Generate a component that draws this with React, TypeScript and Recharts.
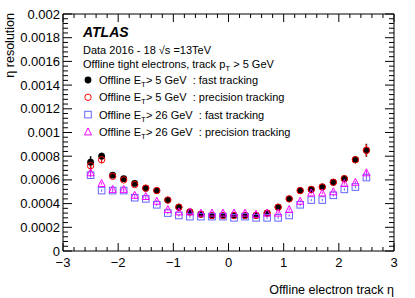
import React from "react";
import { ErrorBar, Scatter, ScatterChart, XAxis, YAxis } from "recharts";

// eta bin centres
const etaBins = [
  -2.5, -2.3, -2.1, -1.9, -1.7, -1.5, -1.3, -1.1, -0.9, -0.7, -0.5, -0.3, -0.1,
  0.1, 0.3, 0.5, 0.7, 0.9, 1.1, 1.3, 1.5, 1.7, 1.9, 2.1, 2.3, 2.5,
];

// Offline ET > 5 GeV : fast tracking
const fastEt5 = [
  0.00075, 0.0008, 0.00064, 0.00061, 0.00057, 0.00053, 0.00051, 0.00043, 0.00037,
  0.00033, 0.00031, 0.0003, 0.0003, 0.0003, 0.0003, 0.0003, 0.00032, 0.00037,
  0.00044, 0.00051, 0.00052, 0.00054, 0.00058, 0.00061, 0.00077, 0.00085,
];
const fastEt5Err = [
  0.00005, 0.00003, 0.00001, 0.00001, 0.00001, 0.00001, 0.00001, 0.00001, 0.00001,
  0.00001, 0.00001, 0.00001, 0.00001, 0.00001, 0.00001, 0.00001, 0.00001, 0.00001,
  0.00001, 0.00001, 0.00001, 0.00001, 0.00001, 0.00001, 0.00002, 0.000055,
];

// Offline ET > 5 GeV : precision tracking
const precEt5 = [
  0.00072, 0.00077, 0.00063, 0.0006, 0.00056, 0.00053, 0.00051, 0.00043, 0.00037,
  0.00033, 0.00031, 0.0003, 0.0003, 0.0003, 0.0003, 0.0003, 0.00032, 0.00037,
  0.00044, 0.00051, 0.00052, 0.00054, 0.00058, 0.00061, 0.00077, 0.00085,
];
const precEt5Err = [
  0.00005, 0.00003, 0.00001, 0.00001, 0.00001, 0.00001, 0.00001, 0.00001, 0.00001,
  0.00001, 0.00001, 0.00001, 0.00001, 0.00001, 0.00001, 0.00001, 0.00001, 0.00001,
  0.00001, 0.00001, 0.00001, 0.00001, 0.00001, 0.00001, 0.00002, 0.00005,
];

// Offline ET > 26 GeV : fast tracking
const fastEt26 = [
  0.00064, 0.00051, 0.00051, 0.00051, 0.00045, 0.00044, 0.00039, 0.00032, 0.0003,
  0.00029, 0.00029, 0.00029, 0.00029, 0.00028, 0.00029, 0.00028, 0.00028, 0.00028,
  0.0003, 0.00039, 0.00043, 0.00043, 0.00047, 0.00052, 0.00054, 0.00062,
];
// Offline ET > 26 GeV : precision tracking
const precEt26 = [
  0.00066, 0.00057, 0.00052, 0.00052, 0.00047, 0.00046, 0.00042, 0.00035, 0.00033,
  0.00033, 0.00032, 0.00032, 0.00032, 0.00032, 0.00032, 0.00031, 0.00032, 0.00032,
  0.00035, 0.00042, 0.00049, 0.00049, 0.0005, 0.00057, 0.00058, 0.00066,
];
const et26Err = [
  0.00002, 0.00001, 0.00001, 0.00001, 0.00001, 0.00001, 0.00001, 0.00001, 0.00001,
  0.00001, 0.00001, 0.00001, 0.00001, 0.00001, 0.00001, 0.00001, 0.00001, 0.00001,
  0.00001, 0.00001, 0.00001, 0.00001, 0.00001, 0.00001, 0.00001, 0.00002,
];

const xMajorTicks = [-3, -2, -1, 0, 1, 2, 3];
const xTickLabels = ["\u22123", "\u22122", "\u22121", "0", "1", "2", "3"];
const yMajorTicks = [
  0, 0.0002, 0.0004, 0.0006, 0.0008, 0.001, 0.0012, 0.0014, 0.0016, 0.0018, 0.002,
];
const yTickLabels = [
  "0", "0.0002", "0.0004", "0.0006", "0.0008", "0.001", "0.0012", "0.0014",
  "0.0016", "0.0018", "0.002",
];

const W = 415;
const H = 298;
const FONT = "'Liberation Sans', Arial, Helvetica, sans-serif";
const RED = "#ff0000";
const BLUE = "#6464ff";
const MAGENTA = "#ff00ff";

// major ticks plus n-1 minor ticks in every gap
function withMinor(major: number[], n: number) {
  const out: number[] = [];
  for (let i = 0; i < major.length - 1; i++) {
    const step = (major[i + 1] - major[i]) / n;
    for (let j = 0; j < n; j++) out.push(Number((major[i] + j * step).toFixed(6)));
  }
  out.push(major[major.length - 1]);
  return out;
}
const xTicks = withMinor(xMajorTicks, 5);
const yTicks = withMinor(yMajorTicks, 5);

const isMajor = (arr: number[], v: number) => arr.findIndex((m) => Math.abs(m - v) < 1e-9);

function BottomTick({ x, y, payload }: any) {
  const i = isMajor(xMajorTicks, payload.value);
  return (
    <g>
      <line x1={x} x2={x} y1={y} y2={y - (i >= 0 ? 8 : 4)} stroke="#000" />
      {i >= 0 && (
        <text x={x} y={y + 16} textAnchor="middle" fontSize={13} fontFamily={FONT} fill="#000">
          {xTickLabels[i]}
        </text>
      )}
    </g>
  );
}

function TopTick({ x, y, payload }: any) {
  const i = isMajor(xMajorTicks, payload.value);
  return <line x1={x} x2={x} y1={y} y2={y + (i >= 0 ? 8 : 4)} stroke="#000" />;
}

function LeftTick({ x, y, payload }: any) {
  const i = isMajor(yMajorTicks, payload.value);
  return (
    <g>
      <line x1={x} x2={x + (i >= 0 ? 9 : 5)} y1={y} y2={y} stroke="#000" />
      {i >= 0 && (
        <text x={x - 3} y={y + 4.5} textAnchor="end" fontSize={13} fontFamily={FONT} fill="#000">
          {yTickLabels[i]}
        </text>
      )}
    </g>
  );
}

function RightTick({ x, y, payload }: any) {
  const i = isMajor(yMajorTicks, payload.value);
  return <line x1={x} x2={x - (i >= 0 ? 9 : 5)} y1={y} y2={y} stroke="#000" />;
}

const FilledDot = ({ cx, cy }: any) => <circle cx={cx} cy={cy} r={3.4} fill="#000" />;
const OpenCircle = ({ cx, cy }: any) => (
  <circle cx={cx} cy={cy} r={3.2} fill="none" stroke={RED} strokeWidth={1} />
);
const OpenSquare = ({ cx, cy }: any) => (
  <rect x={cx - 3.3} y={cy - 3.3} width={6.6} height={6.6} fill="none" stroke={BLUE} strokeWidth={1} />
);
const OpenTriangle = ({ cx, cy }: any) => (
  <polygon
    points={`${cx},${cy - 4} ${cx - 3.5},${cy + 3} ${cx + 3.5},${cy + 3}`}
    fill="none"
    stroke={MAGENTA}
    strokeWidth={1}
  />
);
const Nothing = () => <g />;

const toPoints = (vals: number[], errs: number[]) =>
  etaBins.map((x, i) => ({ x, y: vals[i], err: errs[i] }));

const fast5Data = toPoints(fastEt5, fastEt5Err);
const prec5Data = toPoints(precEt5, precEt5Err);
const fast26Data = toPoints(fastEt26, et26Err);
const prec26Data = toPoints(precEt26, et26Err);

const legend = [
  { shape: FilledDot, et: "5", mode: "fast tracking" },
  { shape: OpenCircle, et: "5", mode: "precision tracking" },
  { shape: OpenSquare, et: "26", mode: "fast tracking" },
  { shape: OpenTriangle, et: "26", mode: "precision tracking" },
];

export default function App() {
  return (
    <div style={{ position: "absolute", left: 0, top: 0, width: W, height: H, background: "#fff" }}>
      <ScatterChart width={W} height={H} margin={{ top: 0, right: 0, bottom: 0, left: 0 }}>
        <XAxis
          xAxisId="bottom"
          dataKey="x"
          type="number"
          domain={[-3, 3]}
          ticks={xTicks}
          interval={0}
          height={47}
          tickSize={0}
          tickMargin={0}
          tickLine={false}
          axisLine={{ stroke: "#000" }}
          tick={<BottomTick />}
          allowDataOverflow
        />
        <XAxis
          xAxisId="top"
          orientation="top"
          dataKey="x"
          type="number"
          domain={[-3, 3]}
          ticks={xTicks}
          interval={0}
          height={14}
          tickSize={0}
          tickMargin={0}
          tickLine={false}
          axisLine={{ stroke: "#000" }}
          tick={<TopTick />}
          allowDataOverflow
        />
        <YAxis
          yAxisId="left"
          dataKey="y"
          type="number"
          domain={[0, 0.002]}
          ticks={yTicks}
          interval={0}
          width={63}
          tickSize={0}
          tickMargin={0}
          tickLine={false}
          axisLine={{ stroke: "#000" }}
          tick={<LeftTick />}
          allowDataOverflow
        />
        <YAxis
          yAxisId="right"
          orientation="right"
          dataKey="y"
          type="number"
          domain={[0, 0.002]}
          ticks={yTicks}
          interval={0}
          width={21}
          tickSize={0}
          tickMargin={0}
          tickLine={false}
          axisLine={{ stroke: "#000" }}
          tick={<RightTick />}
          allowDataOverflow
        />
        <Scatter xAxisId="top" yAxisId="right" data={fast5Data} shape={<Nothing />} isAnimationActive={false} />
        <Scatter xAxisId="bottom" yAxisId="left" data={fast5Data} shape={<FilledDot />} isAnimationActive={false}>
          <ErrorBar dataKey="err" direction="y" width={0} stroke="#000" strokeWidth={1.5} isAnimationActive={false} />
        </Scatter>
        <Scatter xAxisId="bottom" yAxisId="left" data={prec5Data} shape={<OpenCircle />} isAnimationActive={false}>
          <ErrorBar dataKey="err" direction="y" width={0} stroke={RED} strokeWidth={1.2} isAnimationActive={false} />
        </Scatter>
        <Scatter xAxisId="bottom" yAxisId="left" data={fast26Data} shape={<OpenSquare />} isAnimationActive={false}>
          <ErrorBar dataKey="err" direction="y" width={0} stroke={BLUE} strokeWidth={1} isAnimationActive={false} />
        </Scatter>
        <Scatter xAxisId="bottom" yAxisId="left" data={prec26Data} shape={<OpenTriangle />} isAnimationActive={false}>
          <ErrorBar dataKey="err" direction="y" width={0} stroke={MAGENTA} strokeWidth={1} isAnimationActive={false} />
        </Scatter>
      </ScatterChart>

      {/* annotations, legend and axis titles */}
      <svg
        width={W}
        height={H}
        style={{ position: "absolute", left: 0, top: 0, pointerEvents: "none" }}
        fontFamily={FONT}
      >
        <text x={83} y={37} fontSize={14} fontWeight="bold" fontStyle="italic">
          ATLAS
        </text>
        <text x={83} y={54} fontSize={11}>
          Data 2016 - 18 √s =13TeV
        </text>
        <text x={83} y={68} fontSize={11}>
          Offline tight electrons, track p
          <tspan fontSize={8} dy={3}>T</tspan>
          <tspan dy={-3}> &gt; 5 GeV</tspan>
        </text>
        {legend.map((l, i) => {
          const cy = 80 + i * 17.3;
          const Shape = l.shape;
          return (
            <g key={i}>
              <Shape cx={88} cy={cy} />
              <text x={99} y={cy + 4} fontSize={11} style={{ whiteSpace: "pre" }}>
                Offline E<tspan fontSize={8} dy={3}>T</tspan>
                <tspan dy={-3}>{`> ${l.et} GeV  : ${l.mode}`}</tspan>
              </text>
            </g>
          );
        })}
        <text
          transform="translate(14, 13) rotate(-90)"
          textAnchor="end"
          fontSize={12.5}
        >
          η resolution
        </text>
        <text x={394} y={294} textAnchor="end" fontSize={12.5}>
          Offline electron track η
        </text>
      </svg>
    </div>
  );
}
